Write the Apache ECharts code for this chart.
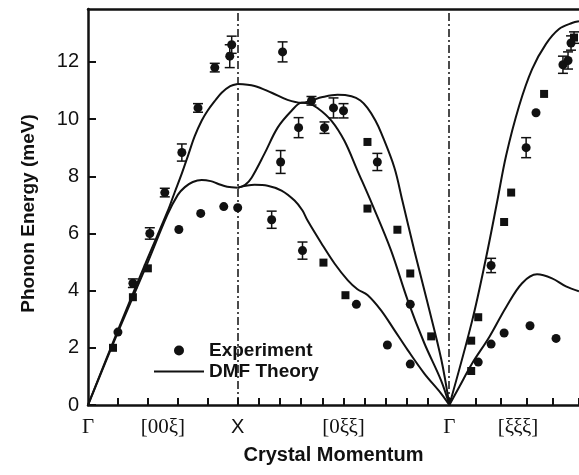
<!DOCTYPE html>
<html>
<head>
<meta charset="utf-8">
<script src="https://cdn.jsdelivr.net/npm/echarts@6/dist/echarts.min.js"></script>
<style>
html,body{margin:0;padding:0;background:#fff;}
#chart{width:579px;height:475px;}
</style>
</head>
<body>
<div id="chart"></div>
<script>
// Symmetry points along the path (units of 2*pi/a)
const symPoints = [0, 1, 1 + Math.SQRT2, 1 + Math.SQRT2 + Math.sqrt(3) / 2];
const symLines = [1, 1 + Math.SQRT2];

// Axis tick labels
const xLabelPos = [0, 0.5, 1, 1 + Math.SQRT2 / 2, 1 + Math.SQRT2, 2.873];
const xLabelText = ['Γ', '[00ξ]', 'X', '[0ξξ]', 'Γ', '[ξξξ]'];
const yTicks = [0, 2, 4, 6, 8, 10, 12];

// Experiment (circles): x, energy, error
const circX = [0.2, 0.3, 0.413, 0.513, 0.607, 0.627, 0.735, 0.753, 0.847, 0.907, 0.947, 0.96, 1.0,
  1.227, 1.287, 1.30, 1.407, 1.433, 1.493, 1.58, 1.64, 1.707, 1.793, 1.933, 2.0, 2.153, 2.153,
  2.607, 2.693, 2.693, 2.78, 2.927, 2.953, 2.993, 3.127, 3.173, 3.207, 3.227];
const circY = [2.55, 4.26, 6.0, 7.43, 6.14, 8.83, 10.39, 6.7, 11.8, 6.94, 12.2, 12.6, 6.9,
  6.48, 8.5, 12.35, 9.7, 5.4, 10.64, 9.7, 10.39, 10.29, 3.52, 8.5, 2.1, 3.52, 1.43,
  1.5, 2.13, 4.88, 2.52, 9.0, 2.77, 10.22, 2.33, 11.9, 12.05, 12.66];
const circErr = [0, 0.15, 0.2, 0.15, 0, 0.3, 0.15, 0, 0.15, 0, 0.4, 0.3, 0,
  0.3, 0.4, 0.35, 0.35, 0.3, 0.15, 0.2, 0.35, 0.25, 0, 0.3, 0, 0, 0,
  0, 0, 0.25, 0, 0.35, 0, 0, 0, 0.3, 0.3, 0.25];

// Experiment (squares)
const sqX = [0.167, 0.3, 0.4, 1.573, 1.72, 1.867, 1.867, 2.067, 2.153, 2.293,
  2.56, 2.56, 2.607, 2.78, 2.827, 3.047, 3.247];
const sqY = [2.0, 3.77, 4.78, 4.98, 3.84, 9.2, 6.87, 6.13, 4.6, 2.4,
  1.19, 2.25, 3.07, 6.4, 7.43, 10.88, 12.85];
const sqErr = [0, 0, 0, 0, 0, 0, 0, 0, 0, 0, 0, 0, 0, 0, 0, 0, 0.2];

// DMF theory branches
const thGXupX = [0, 0.2, 0.4, 0.53, 0.58, 0.627, 0.67, 0.713, 0.76, 0.8, 0.85, 0.893, 0.95, 1.0];
const thGXupY = [0, 2.62, 5.15, 6.75, 7.45, 8.1, 8.75, 9.4, 9.95, 10.3, 10.65, 10.92, 11.15, 11.23];
const thGXloX = [0, 0.2, 0.4, 0.53, 0.6, 0.647, 0.7, 0.76, 0.82, 0.867, 0.93, 1.0];
const thGXloY = [0, 2.55, 5.0, 6.65, 7.35, 7.62, 7.8, 7.87, 7.83, 7.74, 7.63, 7.6];

const thXGaX = [1.0, 1.113, 1.227, 1.333, 1.427, 1.5, 1.56, 1.667, 1.76, 1.82, 1.867, 1.92, 1.96, 2.047, 2.1, 2.18, 2.267, 2.36, 1 + Math.SQRT2];
const thXGaY = [11.23, 11.16, 10.92, 10.67, 10.57, 10.66, 10.76, 10.85, 10.8, 10.65, 10.39, 9.95, 9.5, 8.3, 7.15, 5.4, 3.6, 1.6, 0];
const thXGbX = [1.0, 1.05, 1.093, 1.18, 1.267, 1.36, 1.427, 1.47, 1.533, 1.627, 1.713, 1.8, 1.9, 2.025, 2.136, 2.247, 2.358, 1 + Math.SQRT2];
const thXGbY = [7.6, 7.7, 7.95, 8.8, 9.7, 10.29, 10.57, 10.55, 10.39, 9.94, 9.24, 8.2, 7.0, 5.4, 3.66, 2.16, 0.87, 0];
const thXGcX = [1.0, 1.113, 1.2, 1.293, 1.38, 1.433, 1.467, 1.56, 1.647, 1.736, 1.8, 1.869, 1.958, 2.047, 2.136, 2.247, 2.358, 1 + Math.SQRT2];
const thXGcY = [7.6, 7.7, 7.67, 7.5, 7.15, 6.8, 6.45, 5.65, 4.95, 4.36, 4.05, 3.84, 3.31, 2.62, 1.92, 1.1, 0.41, 0];

const thGLupX = [1 + Math.SQRT2, 2.567, 2.66, 2.733, 2.793, 2.88, 2.967, 3.06, 3.147, 3.233, 3.28];
const thGLupY = [0, 2.96, 5.17, 7.1, 8.72, 10.46, 11.75, 12.63, 13.15, 13.36, 13.42];
const thGLloX = [1 + Math.SQRT2, 2.48, 2.567, 2.68, 2.793, 2.9, 3.0, 3.1, 3.193, 3.28];
const thGLloY = [0, 0.63, 1.46, 2.37, 3.42, 4.26, 4.57, 4.43, 4.15, 3.98];

// ---- build ----
const zip = (a, b) => a.map((v, i) => [v, b[i]]);
const xTicks = [];
for (let k = 1; k <= 5; k++) xTicks.push(symPoints[0] + k * (symPoints[1] - symPoints[0]) / 5);
for (let k = 1; k <= 10; k++) xTicks.push(symPoints[1] + k * (symPoints[2] - symPoints[1]) / 10);
for (let k = 1; k <= 5; k++) xTicks.push(symPoints[2] + k * (symPoints[3] - symPoints[2]) / 5);

const errData = [];
circX.forEach((x, i) => { if (circErr[i] > 0) errData.push([x, circY[i] - circErr[i], circY[i] + circErr[i]]); });
sqX.forEach((x, i) => { if (sqErr[i] > 0) errData.push([x, sqY[i] - sqErr[i], sqY[i] + sqErr[i]]); });

const theoryBranches = [
  zip(thGXupX, thGXupY), zip(thGXloX, thGXloY),
  zip(thXGaX, thXGaY), zip(thXGbX, thXGbY), zip(thXGcX, thXGcY),
  zip(thGLupX, thGLupY), zip(thGLloX, thGLloY)
];

const sansBold = { fontFamily: 'Liberation Sans', fontWeight: 'bold', color: '#111' };

const series = [];
theoryBranches.forEach((d, i) => {
  const s = {
    name: 'DMF Theory', type: 'line', data: d, smooth: 0.35, symbol: 'none', showSymbol: false,
    lineStyle: { color: '#111', width: 2 }, itemStyle: { color: '#111' }, z: 3
  };
  if (i === 0) {
    s.markLine = {
      silent: true, symbol: ['none', 'none'], label: { show: false },
      lineStyle: { color: '#111', width: 1.5, type: [8, 3, 2, 3] },
      data: symLines.map(v => ({ xAxis: v }))
    };
  }
  series.push(s);
});
series.push({
  name: 'errbars', type: 'custom', data: errData, z: 4,
  renderItem: function (params, api) {
    const x = api.value(0);
    const lo = api.coord([x, api.value(1)]);
    const hi = api.coord([x, api.value(2)]);
    const w = 5;
    const st = { stroke: '#111', lineWidth: 1.5 };
    return {
      type: 'group', children: [
        { type: 'line', shape: { x1: lo[0], y1: lo[1], x2: hi[0], y2: hi[1] }, style: st },
        { type: 'line', shape: { x1: lo[0] - w, y1: lo[1], x2: lo[0] + w, y2: lo[1] }, style: st },
        { type: 'line', shape: { x1: hi[0] - w, y1: hi[1], x2: hi[0] + w, y2: hi[1] }, style: st }
      ]
    };
  }
});
series.push({
  name: 'Experiment', type: 'scatter', data: zip(circX, circY), symbol: 'circle', symbolSize: 9,
  itemStyle: { color: '#111', opacity: 1 }, z: 5
});
series.push({
  name: 'Experiment (sq)', type: 'scatter', data: zip(sqX, sqY), symbol: 'rect', symbolSize: 8,
  itemStyle: { color: '#111', opacity: 1 }, z: 5
});

const chart = echarts.init(document.getElementById('chart'), null, { renderer: 'canvas' });
chart.setOption({
  animation: false,
  backgroundColor: '#fff',
  grid: { left: 88, right: -2, top: 9, bottom: 70 },
  legend: {
    data: [
      { name: 'Experiment', itemStyle: { opacity: 1 } },
      { name: 'DMF Theory', itemStyle: { opacity: 0 }, lineStyle: { color: '#111', width: 2, opacity: 1 } }
    ],
    orient: 'vertical', left: 148, top: 330,
    itemWidth: 50, itemHeight: 10, itemGap: 0, padding: [10, 6, 16, 5],
    backgroundColor: '#fff', selectedMode: false,
    textStyle: Object.assign({ fontSize: 19, lineHeight: 21 }, sansBold)
  },
  xAxis: [{
    type: 'value', min: symPoints[0], max: symPoints[3], position: 'bottom',
    splitLine: { show: false },
    axisLine: { show: true, lineStyle: { color: '#111', width: 2.5 } },
    axisTick: { show: true, inside: true, length: 7, customValues: xTicks, lineStyle: { color: '#111', width: 2 } },
    axisLabel: {
      show: true, customValues: xLabelPos, margin: 12, color: '#111',
      formatter: function (v) {
        let idx = 0, best = 1e9;
        xLabelPos.forEach((p, i) => { const d = Math.abs(p - v); if (d < best) { best = d; idx = i; } });
        const t = xLabelText[idx];
        return t === 'X' ? '{s|' + t + '}' : '{r|' + t + '}';
      },
      rich: {
        s: { fontFamily: 'Liberation Sans', fontSize: 20, color: '#111' },
        r: { fontFamily: 'Liberation Serif', fontSize: 21, color: '#111' }
      }
    },
    name: 'Crystal Momentum', nameLocation: 'middle', nameGap: 40,
    nameTextStyle: Object.assign({ fontSize: 20 }, sansBold)
  }, {
    type: 'value', min: symPoints[0], max: symPoints[3], position: 'top',
    splitLine: { show: false }, axisTick: { show: false }, axisLabel: { show: false },
    axisLine: { show: true, lineStyle: { color: '#111', width: 2.5 } }
  }],
  yAxis: {
    type: 'value', min: 0, max: 13.85,
    splitLine: { show: false },
    axisLine: { show: true, lineStyle: { color: '#111', width: 2.5 } },
    axisTick: { show: true, inside: true, length: 8, customValues: yTicks, lineStyle: { color: '#111', width: 2 } },
    axisLabel: { show: true, customValues: yTicks, margin: 9, fontFamily: 'Liberation Sans', fontSize: 20, color: '#111' },
    name: 'Phonon Energy (meV)', nameLocation: 'middle', nameGap: 50,
    nameTextStyle: Object.assign({ fontSize: 19, padding: [0, 13, 0, 0] }, sansBold)
  },
  series: series
});
</script>
</body>
</html>
